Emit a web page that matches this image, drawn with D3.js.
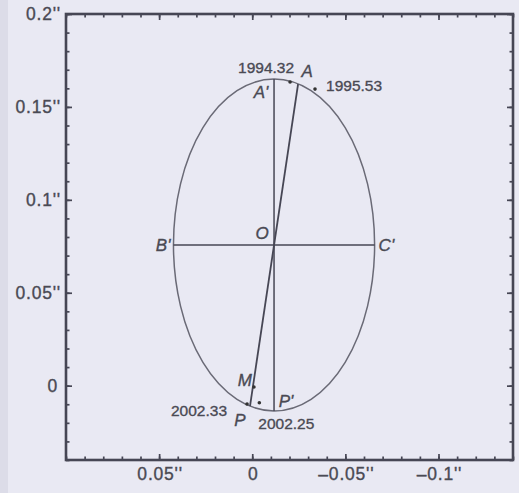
<!DOCTYPE html>
<html><head><meta charset="utf-8">
<script src="https://cdn.jsdelivr.net/npm/d3@7"></script>
<style>
html,body{margin:0;padding:0;background:#e9e9f3;}
svg{display:block;}
text{font-family:"Liberation Sans",Arial,sans-serif;fill:#4a4a54;stroke:#4a4a54;stroke-width:0.35px;}
</style></head>
<body><svg id="c" width="519" height="493"></svg>
<script>
// ---- data ----
const xDomain = [0.1, -0.14];
const yDomain = [-0.04, 0.2];
const xTickValues = [0.05, 0, -0.05, -0.1];
const xTickLabels = ["0.05''", "0", "\u20130.05''", "\u20130.1''"];
const yTickValues = [0, 0.05, 0.1, 0.15, 0.2];
const yTickLabels = ["0", "0.05''", "0.1''", "0.15''", "0.2''"];
const minorStep = 0.01;
const orbitCenter = [-0.0117, 0.0757];
const orbitSemiAxes = [0.054, 0.0893];
const pointNames = ["A", "A'", "B'", "C'", "O", "M", "P", "P'"];
const pointX = [-0.0246, -0.0117, 0.0423, -0.0657, -0.0117, -0.0009, 0.0012, -0.0117];
const pointY = [0.1623, 0.165, 0.0757, 0.0757, 0.0757, -0.0007, -0.011, -0.0136];
const epochLabels = ["1994.32", "1995.53", "2002.33", "2002.25"];
const epochX = [-0.0203, -0.0337, 0.0028, -0.0038];
const epochY = [0.1634, 0.1596, -0.0099, -0.0092];

// ---- layout ----
const L = 66, R = 513, T = 14, B = 460;
const x = d3.scaleLinear().domain(xDomain).range([L, R]);
const y = d3.scaleLinear().domain(yDomain).range([B, T]);
const svg = d3.select("#c");
const ink = "#464654";

svg.append("rect").attr("x",0).attr("y",0).attr("width",519).attr("height",493).attr("fill","#e9e9f3");
svg.append("rect").attr("x",0).attr("y",0).attr("width",8).attr("height",493).attr("fill","#dcdce8");

const P = {};
pointNames.forEach((n,i)=>P[n]=[x(pointX[i]), y(pointY[i])]);

// ticks
const minorX = d3.range(Math.round(xDomain[1]/minorStep), Math.round(xDomain[0]/minorStep)+1).map(i=>+(i*minorStep).toFixed(2));
const minorY = d3.range(Math.round(yDomain[0]/minorStep), Math.round(yDomain[1]/minorStep)+1).map(i=>+(i*minorStep).toFixed(2));
function addAxis(axisFn, scale, vals, size, tr){
  const g = svg.append("g").attr("transform", tr)
    .call(axisFn(scale).tickValues(vals).tickSize(-size).tickFormat(""));
  g.select(".domain").remove();
  g.selectAll("line").attr("stroke", ink).attr("stroke-width", 1.7);
}
[[d3.axisBottom, x, `translate(0,${B})`],[d3.axisTop, x, `translate(0,${T})`]].forEach(([f,s,t])=>{
  addAxis(f, s, minorX, 3.5, t); addAxis(f, s, xTickValues, 6, t);
});
[[d3.axisLeft, y, `translate(${L},0)`],[d3.axisRight, y, `translate(${R},0)`]].forEach(([f,s,t])=>{
  addAxis(f, s, minorY, 3.5, t); addAxis(f, s, yTickValues, 6, t);
});

// frame
svg.append("rect").attr("x",L).attr("y",T).attr("width",R-L).attr("height",B-T)
  .attr("fill","none").attr("stroke",ink).attr("stroke-width",2.6);

// tick labels
svg.selectAll(".xl").data(xTickValues).enter().append("text")
  .attr("x",d=>x(d)+1).attr("y",480).attr("text-anchor","middle")
  .attr("font-size",17.5).attr("letter-spacing",0.8).text((d,i)=>xTickLabels[i]);
svg.selectAll(".yl").data(yTickValues).enter().append("text")
  .attr("x",d=>d===0?58:61).attr("y",d=>y(d)+6).attr("text-anchor","end")
  .attr("font-size",17.5).attr("letter-spacing",0.8).text((d,i)=>yTickLabels[i]);

// orbit ellipse
svg.append("ellipse")
  .attr("cx", x(orbitCenter[0])).attr("cy", y(orbitCenter[1]))
  .attr("rx", Math.abs(x(orbitCenter[0]+orbitSemiAxes[0]) - x(orbitCenter[0])))
  .attr("ry", Math.abs(y(orbitCenter[1]+orbitSemiAxes[1]) - y(orbitCenter[1])))
  .attr("fill","none").attr("stroke","#6a6a76").attr("stroke-width",1.5);

// axes of ellipse and line AP
const seg = (a,b,w)=>svg.append("line").attr("x1",a[0]).attr("y1",a[1]).attr("x2",b[0]).attr("y2",b[1])
  .attr("stroke",ink).attr("stroke-width",w);
seg(P["A'"], P["P'"], 1.5);
seg(P["B'"], P["C'"], 1.5);
seg(P["A"], P["P"], 1.8);

// small markers
svg.selectAll(".ep").data(epochLabels).enter().append("circle")
  .attr("cx",(d,i)=>x(epochX[i])).attr("cy",(d,i)=>y(epochY[i])).attr("r",1.8).attr("fill","#333");
svg.append("circle").attr("cx",P["M"][0]).attr("cy",P["M"][1]).attr("r",1.8).attr("fill","#333");

// point labels (italic)
const lab = {
  "A":  [ 9, -7, "middle"],
  "A'": [-13, 19, "middle"],
  "B'": [-3, 6, "end"],
  "C'": [ 4, 6, "start"],
  "O":  [-12, -6, "middle"],
  "M":  [-2, -1, "end"],
  "P":  [-10, 20, "middle"],
  "P'": [ 12, -4, "middle"]
};
pointNames.forEach(n=>{
  const o = lab[n];
  svg.append("text").attr("x",P[n][0]+o[0]).attr("y",P[n][1]+o[1])
    .attr("text-anchor",o[2]).attr("font-size",17).attr("font-style","italic").text(n);
});

// epoch labels
const epPos = [[-24,-9,"middle"],[11,2,"start"],[-20,12,"end"],[-1,26,"start"]];
epochLabels.forEach((t,i)=>{
  svg.append("text").attr("x",x(epochX[i])+epPos[i][0]).attr("y",y(epochY[i])+epPos[i][1])
    .attr("text-anchor",epPos[i][2]).attr("font-size",15.5).text(t);
});
</script></body></html>
